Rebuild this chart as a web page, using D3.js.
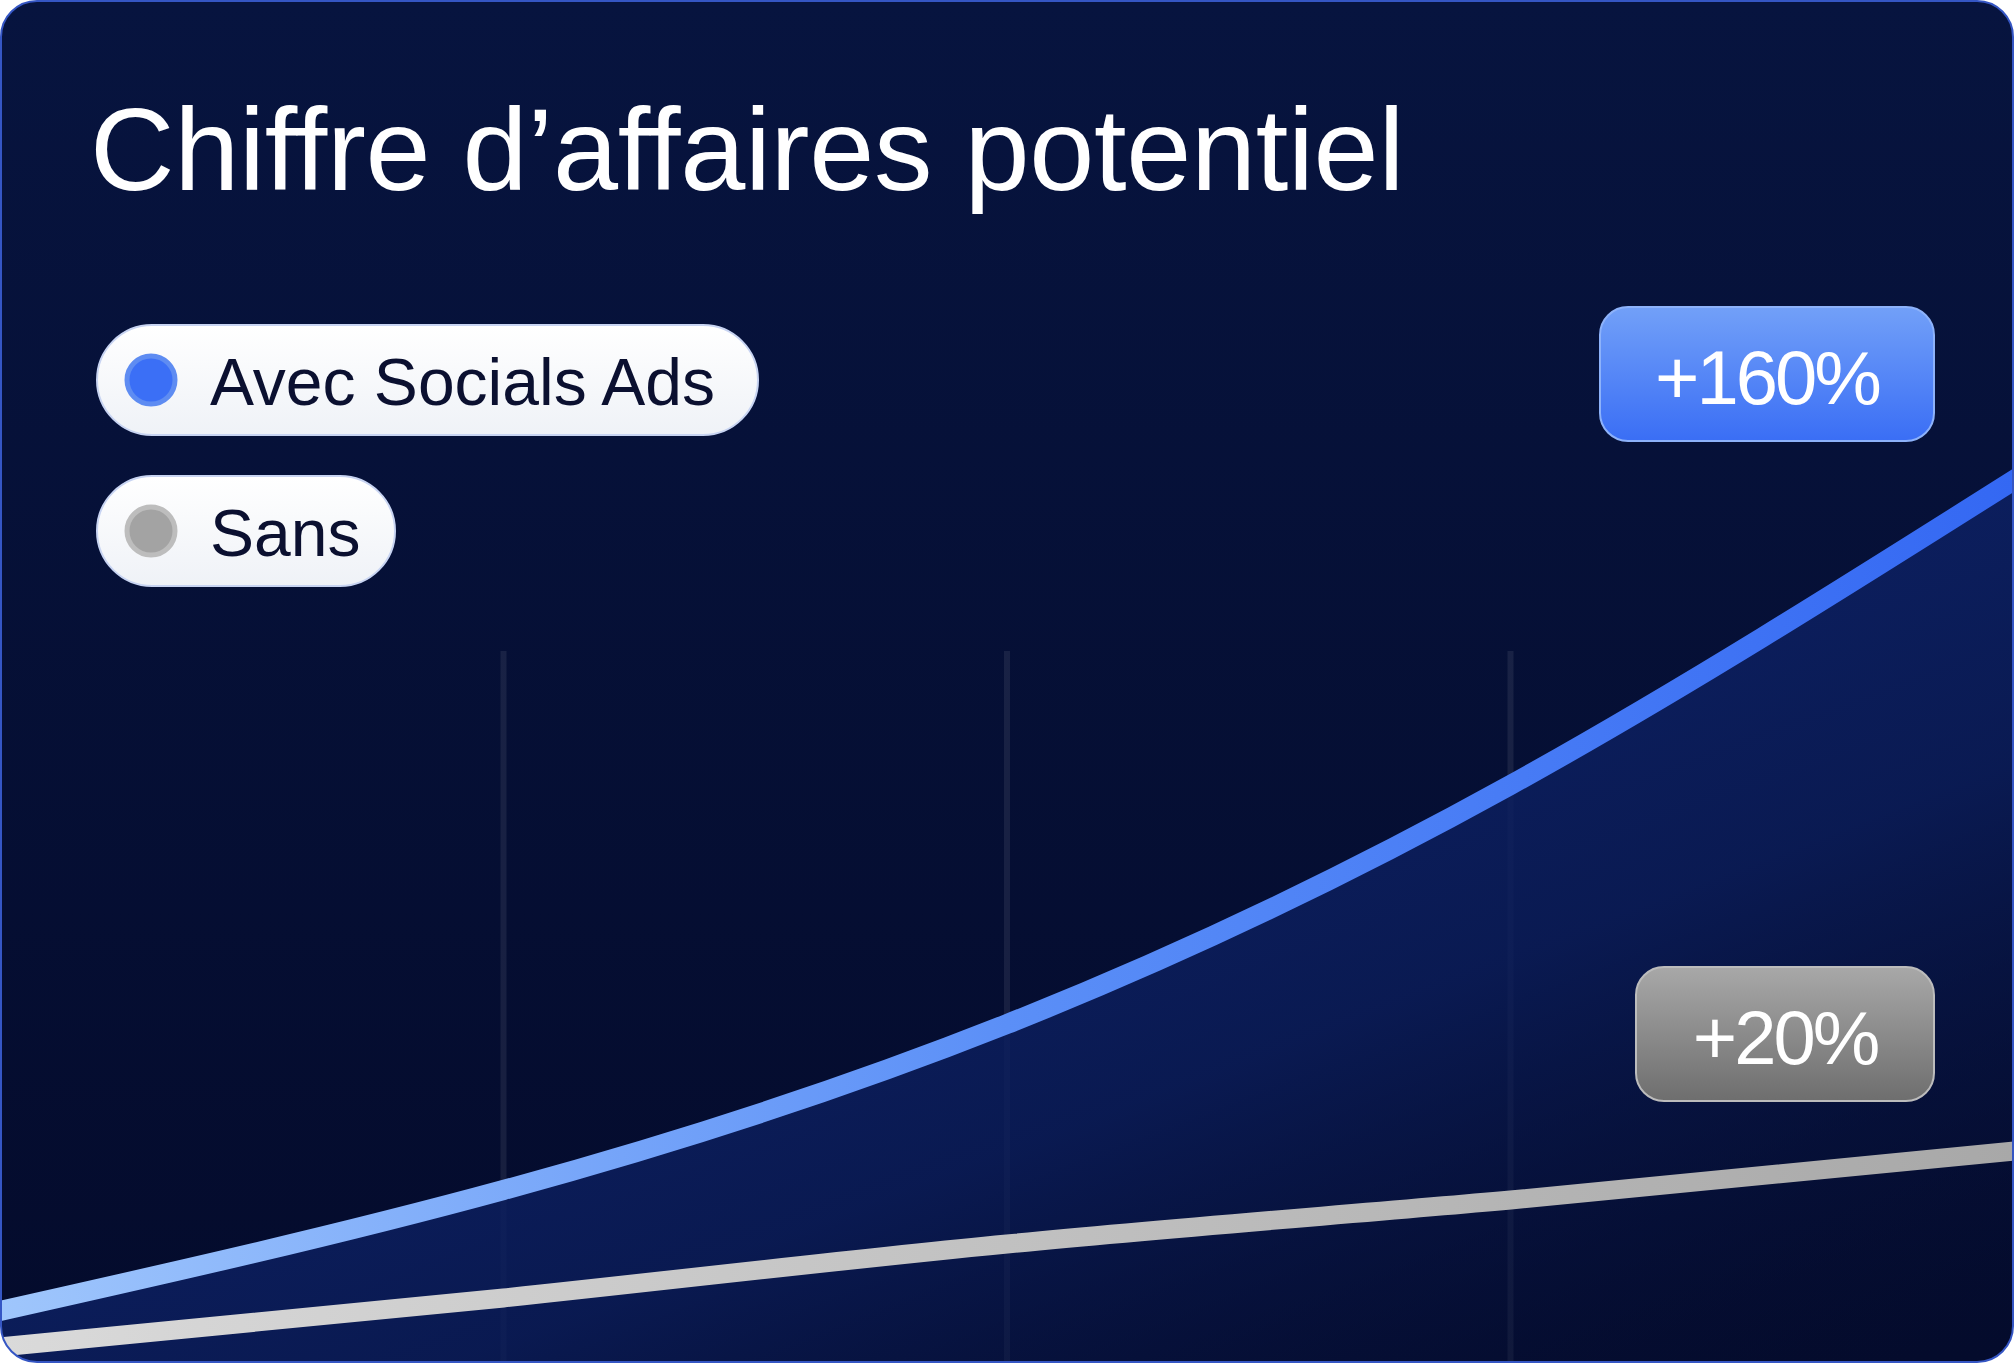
<!DOCTYPE html>
<html>
<head>
<meta charset="utf-8">
<script src="https://cdn.jsdelivr.net/npm/d3@7"></script>
<style>
  body { margin: 0; background: #ffffff; }
  svg { display: block; }
</style>
</head>
<body>
<div id="chart"></div>
<script>
var width = 2014, height = 1363;

// data (revenue index, arbitrary units)
var periods = [0, 1, 2, 3, 4];
var avecValues = [8.9, 21.0, 37.6, 61.5, 92.0];
var sansValues = [5.3, 10.2, 15.6, 20.0, 24.9];
var seriesNames = ["Avec Socials Ads", "Sans"];
var badgeLabels = ["+160%", "+20%"];
var gridTicks = [1, 2, 3];
var titleText = "Chiffre d\u2019affaires potentiel";

var x = d3.scaleLinear().domain([0, 4]).range([0, width]),
    y = d3.scaleLinear().domain([0, 100]).range([1400, 400]);

var svg = d3.select("#chart")
            .append("svg")
            .attr("width", width)
            .attr("height", height);

var defs = svg.append("defs");

defs.append("clipPath").attr("id", "card-clip")
    .append("rect")
    .attr("x", 1).attr("y", 1)
    .attr("width", width - 2).attr("height", height - 2)
    .attr("rx", 36);

function linGrad(id, attrs, stops) {
    var g = defs.append("linearGradient").attr("id", id);
    Object.keys(attrs).forEach(function(k) { g.attr(k, attrs[k]); });
    stops.forEach(function(s) {
        g.append("stop").attr("offset", s[0]).attr("stop-color", s[1])
         .attr("stop-opacity", s[2] === undefined ? 1 : s[2]);
    });
}

linGrad("bg-grad", {x1: 0, y1: 0, x2: 0, y2: 1},
        [["0%", "#07143f"], ["100%", "#040b2c"]]);
linGrad("area-grad", {x1: 0.25, y1: 0.2, x2: 0.95, y2: 1},
        [["0%", "#0f2570", 0.95], ["55%", "#0b1d5a", 0.8], ["100%", "#040b2c", 0.2]]);
linGrad("blue-line", {gradientUnits: "userSpaceOnUse", x1: 0, y1: 0, x2: width, y2: 0},
        [["0%", "#9fc6fc"], ["50%", "#5b8ff7"], ["100%", "#3468f3"]]);
linGrad("grey-line", {gradientUnits: "userSpaceOnUse", x1: 0, y1: 0, x2: width, y2: 0},
        [["0%", "#dadada"], ["100%", "#a8a8a8"]]);
linGrad("badge-blue", {x1: 0, y1: 0, x2: 0, y2: 1},
        [["0%", "#72a0f8"], ["100%", "#3a6ef5"]]);
linGrad("badge-grey", {x1: 0, y1: 0, x2: 0, y2: 1},
        [["0%", "#a8a8a8"], ["100%", "#6e6e6e"]]);
linGrad("pill-grad", {x1: 0, y1: 0, x2: 0, y2: 1},
        [["0%", "#ffffff"], ["100%", "#eff2f7"]]);

// card
svg.append("rect")
    .attr("x", 1).attr("y", 1)
    .attr("width", width - 2).attr("height", height - 2)
    .attr("rx", 36)
    .attr("fill", "url(#bg-grad)");

var canvas = svg.append("g").attr("clip-path", "url(#card-clip)");

// vertical grid
canvas.selectAll(".grid")
    .data(gridTicks)
    .enter()
    .append("line")
    .attr("class", "grid")
    .attr("x1", function(d) { return x(d); })
    .attr("x2", function(d) { return x(d); })
    .attr("y1", 651)
    .attr("y2", height)
    .attr("stroke", "#ffffff")
    .attr("stroke-opacity", 0.08)
    .attr("stroke-width", 6);

var avec = periods.map(function(p, i) { return {p: p, v: avecValues[i]}; });
var sans = periods.map(function(p, i) { return {p: p, v: sansValues[i]}; });

var line = d3.line()
             .curve(d3.curveNatural)
             .x(function(d) { return x(d.p); })
             .y(function(d) { return y(d.v); });

canvas.append("path")
    .datum(avec)
    .attr("fill", "url(#area-grad)")
    .attr("d", d3.area()
                 .curve(d3.curveNatural)
                 .x(function(d) { return x(d.p); })
                 .y0(height)
                 .y1(function(d) { return y(d.v); }));

canvas.append("path")
    .datum(sans)
    .attr("fill", "none")
    .attr("stroke", "url(#grey-line)")
    .attr("stroke-width", 19)
    .attr("stroke-linecap", "square")
    .attr("d", line);

canvas.append("path")
    .datum(avec)
    .attr("fill", "none")
    .attr("stroke", "url(#blue-line)")
    .attr("stroke-width", 20)
    .attr("stroke-linecap", "square")
    .attr("d", line);

// card border
svg.append("rect")
    .attr("x", 1).attr("y", 1)
    .attr("width", width - 2).attr("height", height - 2)
    .attr("rx", 36)
    .attr("fill", "none")
    .attr("stroke", "#3556c4")
    .attr("stroke-width", 2);

// title
svg.append("text")
    .attr("x", 90)
    .attr("y", 190)
    .attr("font-family", "Liberation Sans, Arial, sans-serif")
    .attr("font-size", "117px")
    .attr("letter-spacing", "-0.3px")
    .attr("fill", "#ffffff")
    .text(titleText);

// legend pills
var legend = [
    {name: seriesNames[0], top: 325, w: 661, dot: "#3b6ff6", ring: "#5e8cf2"},
    {name: seriesNames[1], top: 476, w: 298, dot: "#a3a3a3", ring: "#bdbdbd"}
];
var pills = svg.selectAll(".pill")
    .data(legend)
    .enter()
    .append("g")
    .attr("class", "pill")
    .attr("transform", function(d) { return "translate(97," + d.top + ")"; });
pills.append("rect")
    .attr("width", function(d) { return d.w; })
    .attr("height", 110)
    .attr("rx", 55)
    .attr("fill", "url(#pill-grad)")
    .attr("stroke", "#c8d4f2")
    .attr("stroke-width", 2);
pills.append("circle")
    .attr("cx", 54).attr("cy", 55).attr("r", 24)
    .attr("fill", function(d) { return d.dot; })
    .attr("stroke", function(d) { return d.ring; })
    .attr("stroke-width", 5);
pills.append("text")
    .attr("x", 113)
    .attr("y", 80)
    .attr("font-family", "Liberation Sans, Arial, sans-serif")
    .attr("font-size", "66px")
    .attr("fill", "#0b1030")
    .text(function(d) { return d.name; });

// badges
var badges = [
    {label: badgeLabels[0], x: 1600, y: 307, w: 334, fill: "url(#badge-blue)", stroke: "#8db2fa"},
    {label: badgeLabels[1], x: 1636, y: 967, w: 298, fill: "url(#badge-grey)", stroke: "#bcbcbc"}
];
var badge = svg.selectAll(".badge")
    .data(badges)
    .enter()
    .append("g")
    .attr("class", "badge")
    .attr("transform", function(d) { return "translate(" + d.x + "," + d.y + ")"; });
badge.append("rect")
    .attr("width", function(d) { return d.w; })
    .attr("height", 134)
    .attr("rx", 28)
    .attr("fill", function(d) { return d.fill; })
    .attr("stroke", function(d) { return d.stroke; })
    .attr("stroke-width", 2);
badge.append("text")
    .attr("x", function(d) { return d.w / 2; })
    .attr("y", 97)
    .attr("text-anchor", "middle")
    .attr("font-family", "Liberation Sans, Arial, sans-serif")
    .attr("font-size", "76px")
    .attr("letter-spacing", "-3px")
    .attr("fill", "#ffffff")
    .text(function(d) { return d.label; });
</script>
</body>
</html>
